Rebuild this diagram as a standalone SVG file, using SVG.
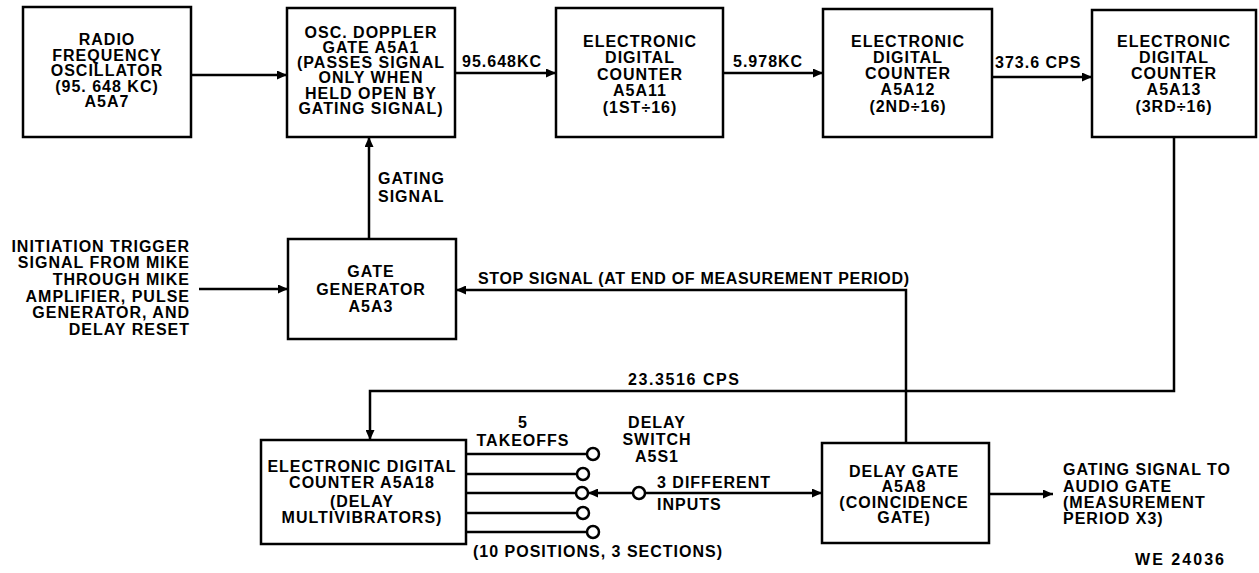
<svg xmlns="http://www.w3.org/2000/svg" width="1259" height="573" viewBox="0 0 1259 573">
<style>
.t{font-family:"Liberation Sans",Arial,sans-serif;font-weight:bold;font-size:16px;letter-spacing:1px;fill:#000}
.c{text-anchor:middle}
.e{text-anchor:end}
.box{fill:#fff;stroke:#000;stroke-width:2.5}
.ln{fill:none;stroke:#000;stroke-width:2.5}
.sw{fill:#fff;stroke:#000;stroke-width:2.5}
</style>
<defs>
<marker id="ah" markerUnits="userSpaceOnUse" markerWidth="11" markerHeight="9" refX="10" refY="4.5" orient="auto">
<path d="M0,0 L10,4.5 L0,9 z" fill="#000"/>
</marker>
</defs>
<rect width="1259" height="573" fill="#fff"/>

<g id="connectors">
<path class="ln" d="M191,75 H287" marker-end="url(#ah)"/>
<path class="ln" d="M455,73 H556" marker-end="url(#ah)"/>
<path class="ln" d="M723,73 H823" marker-end="url(#ah)"/>
<path class="ln" d="M992,77 H1092" marker-end="url(#ah)"/>
<path class="ln" d="M369,239 V137" marker-end="url(#ah)"/>
<path class="ln" d="M199,289 H288" marker-end="url(#ah)"/>
<path class="ln" d="M906,443 V290 H456" marker-end="url(#ah)"/>
<path class="ln" d="M1174,137 V391 H370 V440" marker-end="url(#ah)"/>
<path class="ln" d="M466,454 H587"/>
<path class="ln" d="M466,474 H577"/>
<path class="ln" d="M466,493 H576"/>
<path class="ln" d="M466,513 H577"/>
<path class="ln" d="M466,532 H587"/>
<path class="ln" d="M633,493 H588" marker-end="url(#ah)"/>
<path class="ln" d="M645,493 H822" marker-end="url(#ah)"/>
<path class="ln" d="M989,494 H1053" marker-end="url(#ah)"/>
<text class="t" x="462" y="67">95.648KC</text>
<text class="t" x="733" y="67">5.978KC</text>
<text class="t" x="995" y="68">373.6 CPS</text>
<text class="t" x="378" y="184">GATING</text>
<text class="t" x="378" y="202">SIGNAL</text>
<text class="t" x="478" y="284" textLength="432">STOP SIGNAL (AT END OF MEASUREMENT PERIOD)</text>
<text class="t" x="628" y="385" textLength="112">23.3516 CPS</text>
<text class="t" x="657" y="488">3 DIFFERENT</text>
<text class="t" x="657" y="510">INPUTS</text>
<text class="t c" x="523" y="428">5</text>
<text class="t c" x="523" y="446">TAKEOFFS</text>
<text class="t e" x="723" y="557">(10 POSITIONS, 3 SECTIONS)</text>
<text class="t" x="1063" y="475">GATING SIGNAL TO</text>
<text class="t" x="1063" y="492">AUDIO GATE</text>
<text class="t" x="1063" y="508">(MEASUREMENT</text>
<text class="t" x="1063" y="524">PERIOD X3)</text>
</g>

<g id="initiation-trigger">
<text class="t e" x="190" y="252">INITIATION TRIGGER</text>
<text class="t e" x="190" y="268">SIGNAL FROM MIKE</text>
<text class="t e" x="190" y="285">THROUGH MIKE</text>
<text class="t e" x="190" y="302">AMPLIFIER, PULSE</text>
<text class="t e" x="190" y="318">GENERATOR, AND</text>
<text class="t e" x="190" y="335">DELAY RESET</text>
</g>

<g id="rf-oscillator">
<rect class="box" x="23" y="7" width="168" height="130"/>
<text class="t c" x="107" y="45">RADIO</text>
<text class="t c" x="107" y="61">FREQUENCY</text>
<text class="t c" x="107" y="76">OSCILLATOR</text>
<text class="t c" x="107" y="92">(95. 648 KC)</text>
<text class="t c" x="107" y="107">A5A7</text>
</g>

<g id="doppler-gate">
<rect class="box" x="287" y="8" width="168" height="129"/>
<text class="t c" x="371" y="38">OSC. DOPPLER</text>
<text class="t c" x="371" y="53">GATE  A5A1</text>
<text class="t c" x="371" y="68">(PASSES SIGNAL</text>
<text class="t c" x="371" y="83">ONLY WHEN</text>
<text class="t c" x="371" y="99">HELD OPEN BY</text>
<text class="t c" x="371" y="114">GATING SIGNAL)</text>
</g>

<g id="counter-a5a11">
<rect class="box" x="556" y="8" width="167" height="129"/>
<text class="t c" x="640" y="47">ELECTRONIC</text>
<text class="t c" x="640" y="63">DIGITAL</text>
<text class="t c" x="640" y="80">COUNTER</text>
<text class="t c" x="640" y="96">A5A11</text>
<text class="t c" x="640" y="113">(1ST÷16)</text>
</g>

<g id="counter-a5a12">
<rect class="box" x="823" y="9" width="169" height="128"/>
<text class="t c" x="908" y="47">ELECTRONIC</text>
<text class="t c" x="908" y="63">DIGITAL</text>
<text class="t c" x="908" y="79">COUNTER</text>
<text class="t c" x="908" y="95">A5A12</text>
<text class="t c" x="908" y="112">(2ND÷16)</text>
</g>

<g id="counter-a5a13">
<rect class="box" x="1092" y="10" width="164" height="127"/>
<text class="t c" x="1174" y="47">ELECTRONIC</text>
<text class="t c" x="1174" y="63">DIGITAL</text>
<text class="t c" x="1174" y="79">COUNTER</text>
<text class="t c" x="1174" y="95">A5A13</text>
<text class="t c" x="1174" y="112">(3RD÷16)</text>
</g>

<g id="gate-generator">
<rect class="box" x="288" y="239" width="168" height="100"/>
<text class="t c" x="371" y="277">GATE</text>
<text class="t c" x="371" y="295">GENERATOR</text>
<text class="t c" x="371" y="312">A5A3</text>
</g>

<g id="counter-a5a18">
<rect class="box" x="261" y="440" width="205" height="104"/>
<text class="t c" x="362" y="472">ELECTRONIC DIGITAL</text>
<text class="t c" x="362" y="488">COUNTER A5A18</text>
<text class="t c" x="362" y="507">(DELAY</text>
<text class="t c" x="362" y="523">MULTIVIBRATORS)</text>
</g>

<g id="delay-switch">
<circle class="sw" cx="593" cy="454" r="6"/>
<circle class="sw" cx="583" cy="474" r="6"/>
<circle class="sw" cx="582" cy="493" r="6"/>
<circle class="sw" cx="583" cy="513" r="6"/>
<circle class="sw" cx="593" cy="532" r="6"/>
<circle class="sw" cx="639" cy="493" r="6"/>
<text class="t c" x="657" y="428">DELAY</text>
<text class="t c" x="657" y="445">SWITCH</text>
<text class="t c" x="657" y="462">A5S1</text>
</g>

<g id="delay-gate">
<rect class="box" x="822" y="443" width="167" height="100"/>
<text class="t c" x="904" y="477">DELAY GATE</text>
<text class="t c" x="904" y="492">A5A8</text>
<text class="t c" x="904" y="508">(COINCIDENCE</text>
<text class="t c" x="904" y="523">GATE)</text>
</g>

<text class="t" x="1135" y="565" textLength="90">WE 24036</text>
</svg>
